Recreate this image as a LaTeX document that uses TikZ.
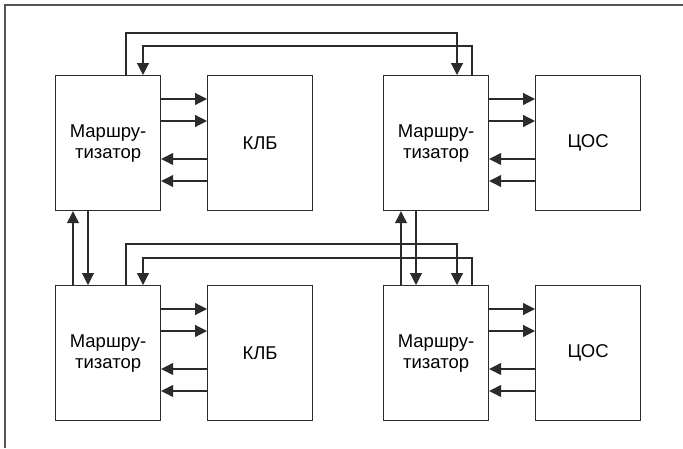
\documentclass[tikz,border=0pt]{standalone}
\usepackage{fontspec}
\setmainfont{Liberation Sans}
\usetikzlibrary{arrows.meta}
\definecolor{ink}{HTML}{2B2B2B}
\definecolor{framec}{HTML}{555555}
\tikzset{
  blk/.style={draw=ink, line width=1.2pt, fill=white, minimum width=105pt, minimum height=135pt, anchor=north west, inner sep=0pt, align=center, font=\fontsize{18.5pt}{21pt}\selectfont},
  arr/.style={draw=ink, line width=1.2pt, -{Triangle[length=12pt,width=12pt]}},
}
\begin{document}
\begin{tikzpicture}[x=1pt,y=-1pt]
\useasboundingbox (0,0) rectangle (683,448);
% frame (top and left edges only)
\draw[framec, line width=1.6pt] (5,448) -- (5,5) -- (683,5);
% blocks
\node[blk] (TL) at (55,75) {Маршру-\\тизатор};
\node[blk] (K1) at (207,75) {КЛБ};
\node[blk] (TR) at (383,75) {Маршру-\\тизатор};
\node[blk] (D1) at (535,75) {ЦОС};
\node[blk] (BL) at (55,285) {Маршру-\\тизатор};
\node[blk] (K2) at (207,285) {КЛБ};
\node[blk] (BR) at (383,285) {Маршру-\\тизатор};
\node[blk] (D2) at (535,285) {ЦОС};
% router <-> peripheral links
\foreach \r/\p/\o in {TL/K1/0, TR/D1/0, BL/K2/210, BR/D2/210}{
  \draw[arr] (\r.east |- 0,99+\o) -- (\p.west |- 0,99+\o);
  \draw[arr] (\r.east |- 0,121+\o) -- (\p.west |- 0,121+\o);
  \draw[arr] (\p.west |- 0,159+\o) -- (\r.east |- 0,159+\o);
  \draw[arr] (\p.west |- 0,181+\o) -- (\r.east |- 0,181+\o);
}
% vertical links
\draw[arr] (BL.north -| 73,0) -- (TL.south -| 73,0);
\draw[arr] (TL.south -| 88,0) -- (BL.north -| 88,0);
\draw[arr] (BR.north -| 401,0) -- (TR.south -| 401,0);
\draw[arr] (TR.south -| 416,0) -- (BR.north -| 416,0);
% top horizontal links
\draw[arr] (TL.north -| 126,0) -- (126,33) -- (457,33) -- (TR.north -| 457,0);
\draw[arr] (TR.north -| 472,0) -- (472,46) -- (143,46) -- (TL.north -| 143,0);
% middle horizontal links
\draw[arr] (BL.north -| 126,0) -- (126,244) -- (457,244) -- (BR.north -| 457,0);
\draw[arr] (BR.north -| 472,0) -- (472,258) -- (143,258) -- (BL.north -| 143,0);
\end{tikzpicture}
\end{document}
